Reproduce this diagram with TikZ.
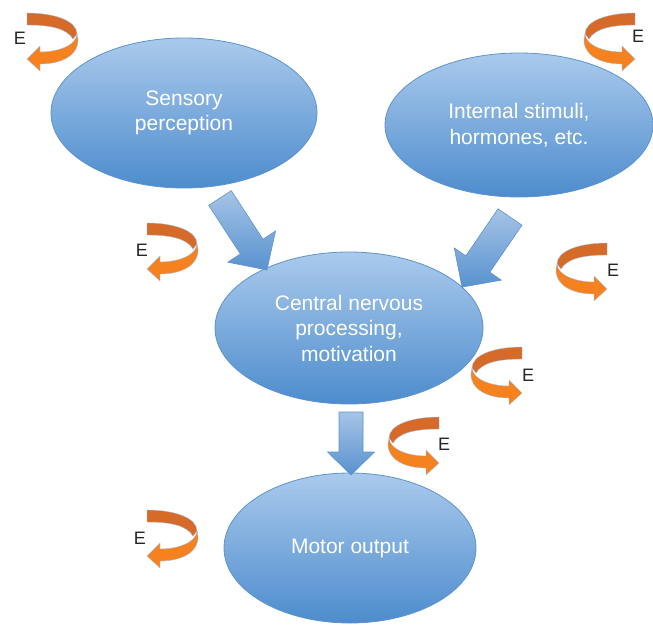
\documentclass[tikz,border=0pt]{standalone}
\usepackage{fontspec}
\setmainfont{Liberation Sans}
\usetikzlibrary{shapes.geometric}
\definecolor{elltop}{HTML}{AACAEC}
\definecolor{ellbot}{HTML}{4D8CCD}
\definecolor{elledge}{HTML}{5F93CC}
\definecolor{arrtop}{HTML}{A6C4E6}
\definecolor{arrbot}{HTML}{5892CF}
\definecolor{ebg}{HTML}{D66A28}
\definecolor{efg}{HTML}{F5821F}
\definecolor{eline}{HTML}{A9BEDC}
\tikzset{
  ell/.style={ellipse, draw=elledge, line width=0.8pt, top color=elltop, bottom color=ellbot,
    text=white, align=center, inner sep=0pt, font=\fontsize{21}{25.5}\selectfont},
  elab/.style={inner sep=0pt, text=black!85, font=\fontsize{18}{20}\selectfont},
  blockarr/.style={draw=elledge, line width=0.6pt, top color=arrtop, bottom color=arrbot},
  ering/.pic={
    \filldraw[fill=ebg, draw=eline, line width=0.4pt]
      (0,0) .. controls (28,0) and (50,8) .. (50,21) -- (46,26)
      .. controls (40,16) and (25,12) .. (0,12) -- cycle;
    \filldraw[fill=efg, draw=eline, line width=0.4pt]
      (50,21) .. controls (49,33) and (30,39) .. (13,39) -- (13,33) -- (0,46) -- (13,58) -- (13,51)
      .. controls (35,51) and (52,42) .. (51,26) -- cycle;
  }
}
\begin{document}
\begin{tikzpicture}[x=1pt,y=-1pt]
\useasboundingbox (0,0) rectangle (653,627);
% ellipses
\node[ell, minimum width=266pt, minimum height=150pt] (sens) at (184,113) {Sensory\\perception};
\node[ell, minimum width=268pt, minimum height=144pt] (intern) at (519,125) {Internal stimuli,\\hormones, etc.};
\node[ell, minimum width=268pt, minimum height=152pt] (cns) at (349,328) {Central nervous\\processing,\\motivation};
\node[ell, minimum width=252pt, minimum height=150pt] (motor) at (350,548) {Motor output};
% block arrows
\begin{scope}[shift={(220,198)}, rotate=-56.9]
  \draw[blockarr] (0,-13.5) -- (58,-13.5) -- (58,-28.5) -- (86,0) -- (58,28.5) -- (58,13.5) -- (0,13.5) -- cycle;
\end{scope}
\begin{scope}[shift={(510,217)}, rotate=-124.4]
  \draw[blockarr] (0,-14.5) -- (57,-14.5) -- (57,-28.5) -- (85,0) -- (57,28.5) -- (57,14.5) -- (0,14.5) -- cycle;
\end{scope}
\begin{scope}[shift={(351,412)}, rotate=-90]
  \draw[blockarr] (0,-12) -- (40,-12) -- (40,-23.5) -- (63,0) -- (40,23.5) -- (40,12) -- (0,12) -- cycle;
\end{scope}
% environment rings
\pic at (27,13) {ering};
\pic at (147,223) {ering};
\pic at (147,510) {ering};
\pic[xscale=-1] at (635,13) {ering};
\pic[xscale=-1] at (607,243) {ering};
\pic[xscale=-1] at (522,347) {ering};
\pic[xscale=-1] at (439,417) {ering};
% labels
\node[elab] (e1) at (20,38) {E};
\node[elab] (e2) at (142,250) {E};
\node[elab] (e3) at (140,538) {E};
\node[elab] (e4) at (638,36) {E};
\node[elab] (e5) at (613,270) {E};
\node[elab] (e6) at (528,375) {E};
\node[elab] (e7) at (444,444) {E};
\end{tikzpicture}
\end{document}
